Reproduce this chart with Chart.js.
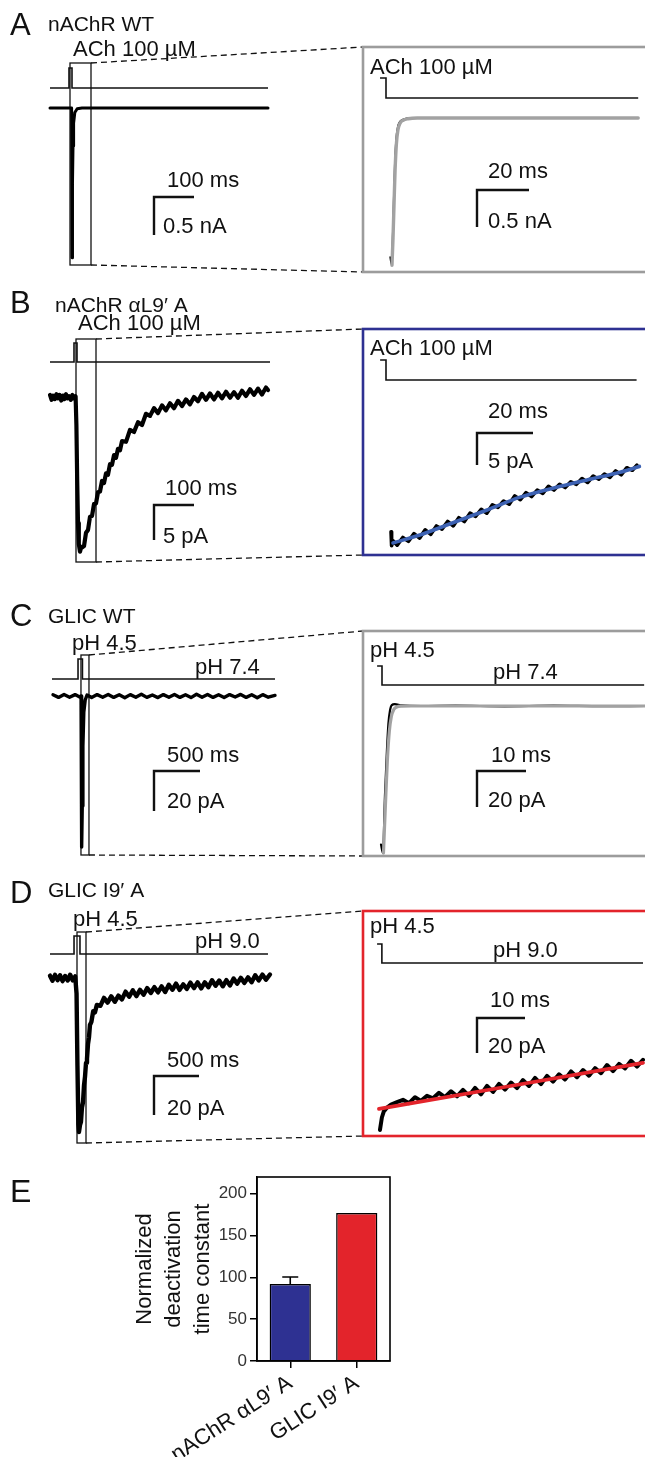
<!DOCTYPE html>
<html>
<head>
<meta charset="utf-8">
<script src="https://cdn.jsdelivr.net/npm/chart.js@4.4.1/dist/chart.umd.min.js"></script>
<style>
  html, body { margin: 0; padding: 0; background: #fff; }
  #wrap { position: relative; width: 645px; height: 1457px; overflow: hidden; }
  #wrap canvas { position: absolute; left: 0; }
</style>
</head>
<body>
<div id="wrap">
  <canvas id="rowA" width="645" height="280" style="top:0px"></canvas>
  <canvas id="rowB" width="645" height="290" style="top:280px"></canvas>
  <canvas id="rowC" width="645" height="300" style="top:570px"></canvas>
  <canvas id="rowD" width="645" height="290" style="top:870px"></canvas>
  <canvas id="rowE" width="645" height="297" style="top:1160px"></canvas>
</div>
<script>
// ---- data (time in ms, current in nA for A, pA otherwise) ----

// A: nAChR WT
const aLeftT = [0, 54, 55, 55.8, 56.6, 57.5, 59, 62, 68, 80, 545];
const aLeftI = [0, 0, -1.97, -1.6, -1.0, -0.5, -0.2, -0.06, -0.01, 0, 0];
const aRightT = [1.6, 2.1, 2.6, 3.0, 3.4, 3.9, 4.5, 5.3, 6.5, 8.5, 12, 97];
const aRightI = [-1.88, -1.98, -1.55, -1.05, -0.6, -0.28, -0.12, -0.05, -0.02, 0, 0, 0];
const aFitT = [2.3, 2.7, 3.1, 3.5, 4.0, 4.6, 5.4, 6.6, 8.5, 12, 97];
const aFitI = [-1.99, -1.62, -1.15, -0.7, -0.35, -0.16, -0.07, -0.03, -0.01, 0, 0];
const aStim = [0, 47.5, 55, 545];      // start, pulse on, pulse off, end
const aWindow = [50, 102.5];
const aStepR = [-2.3, 0, 97];
const aScaleL = [100, 0.5];
const aScaleR = [20, 0.5];

// B: nAChR aL9'A
const bLeftT = [0, 4, 8, 12, 16, 20, 24, 28, 32, 36, 40, 44, 48, 52, 56, 60, 64,
  66, 68, 70, 72, 75, 78,
  80, 85, 90, 95, 100, 105, 110, 115, 120, 125, 130, 135, 140, 145, 150, 155, 160, 165, 170, 175,
  180, 190, 200, 210, 220, 230, 240, 250, 260, 270, 280, 290, 300, 310, 320, 330, 340, 350,
  360, 370, 380, 390, 400, 410, 420, 430, 440, 450, 460, 470, 480, 490, 500, 510, 520, 530, 540, 545];
const bLeftI = [0.3, -0.4, 0.2, -0.3, 0.4, -0.2, 0.3, -0.5, 0.2, -0.3, 0.4, -0.2, 0.1, -0.4, 0.3, -0.2, 0.1,
  -4, -12, -18, -21, -22.1, -21.4,
  -21.5, -21.3, -19.4, -19.0, -17.1, -17.0, -15.3, -15.2, -13.6, -13.5, -12.0, -12.3, -10.9, -11.1, -9.6, -9.7, -8.3, -8.7, -7.4, -7.6,
  -6.3, -6.4, -4.7, -5.0, -3.6, -4.0, -2.4, -2.7, -1.6, -2.3, -1.2, -1.9, -0.9, -1.6, -0.55, -1.3, -0.35, -1.05,
  0, -0.6, 0.45, -0.4, 0.5, -0.35, 0.6, -0.2, 0.75, -0.1, 0.7, -0.1, 0.9, 0.15, 1.1, 0.3, 1.2, 0.35, 1.35, 1.0];
const bRightT = [1.8, 2.0, 2.5, 4, 6, 8, 10, 12, 14, 16, 18, 20, 22, 24, 26, 28, 30, 32, 34, 36, 38, 40,
  42, 44, 46, 48, 50, 52, 54, 56, 58, 60, 62, 64, 66, 68, 70, 72, 74, 76, 78, 80, 82, 84, 86, 88, 89.6];
const bRightI = [-19.8, -22.0, -21.2, -21.9, -20.7, -21.3, -20.1, -20.8, -19.5, -20.2, -18.9, -19.4, -18.2, -18.9,
  -17.6, -18.2, -16.9, -17.4, -16.3, -16.9, -15.6, -16.0, -15.0, -15.5, -14.2, -14.8, -13.7, -14.3, -13.3, -13.8,
  -12.7, -13.3, -12.4, -12.9, -12.0, -12.4, -11.5, -12.1, -11.1, -11.6, -10.8, -11.3, -10.3, -10.9, -9.8, -10.2, -9.4];
const bFitT = [2.5, 12.1, 23.9, 36.1, 47.9, 59.6, 71.8, 83.6, 90.5];
const bFitI = [-21.56, -20.3, -18.4, -16.4, -14.4, -13.0, -11.7, -10.5, -9.6];
const bStim = [0, 60, 67.5, 550];
const bWindow = [65, 115];
const bStepR = [-2.1, 0, 89.5];
const bScaleL = [100, 5];
const bScaleR = [20, 5];

// C: GLIC WT
const cLeftT = [0, 60, 120, 180, 240, 290, 305, 310, 313, 318, 325, 335, 350, 370,
  420, 480, 540, 600, 660, 720, 780, 840, 900, 960, 1020, 1080, 1140, 1200, 1260, 1320, 1380, 1440,
  1500, 1560, 1620, 1680, 1740, 1800, 1860, 1920, 1980, 2040, 2100, 2160, 2220, 2280, 2340, 2413];
const cLeftI = [0.6, -0.7, 0.8, -0.6, 0.7, -0.5, 0, -60, -75.5, -55, -25, -8, -2, 0.5,
  -0.8, 0.7, -0.6, 0.8, -0.7, 0.6, -0.9, 0.7, -0.6, 0.9, -0.7, 0.5, -0.8, 0.7, -0.6, 0.8, -0.7, 0.6,
  -0.8, 0.9, -0.6, 0.8, -0.7, 0.6, -0.8, 0.7, -0.5, 0.8, -0.7, 0.6, -0.9, 0.7, -0.6, 0.3];
const cRightT = [-0.2, 0.2, 0.6, 1.0, 1.3, 1.6, 2.0, 2.6, 4, 8, 15, 25, 35, 45, 54];
const cRightI = [-77, -81.7, -50, -25, -10, -3, 0.5, 1.0, 0.3, 0, 0.2, -0.2, 0.2, -0.1, 0];
const cFitT = [0.3, 0.7, 1.1, 1.5, 1.9, 2.4, 3.0, 4, 6, 54];
const cFitI = [-81.7, -55, -30, -14, -6, -2, -0.6, -0.1, 0, 0];
const cStim = [-11, 272, 320, 2413];
const cWindow = [304, 391];
const cStepR = [-1.0, 0, 53.5];
const cScaleL = [500, 20];
const cScaleR = [10, 20];

// D: GLIC I9'A
const dLeftT = [0, 28, 56, 84, 112, 140, 168, 196, 224, 252, 280,
  295, 305, 315, 322, 333, 344, 355, 367, 378, 389, 400, 411, 422, 433, 444, 460, 480, 500,
  520, 560, 600, 640, 680, 720, 760, 800, 840, 880, 920, 960, 1000, 1040, 1080, 1120, 1160, 1200,
  1240, 1280, 1320, 1360, 1400, 1440, 1480, 1520, 1560, 1600, 1640, 1680, 1720, 1760, 1800, 1840,
  1880, 1920, 1960, 2000, 2040, 2080, 2120, 2160, 2200, 2240, 2280, 2320, 2360, 2400, 2444];
const dLeftI = [1.2, -1.4, 1.6, -1.1, 1.4, -1.6, 1.0, -1.3, 1.7, -1.2, 0.8,
  -8, -45, -75, -79, -75.5, -73.8, -66.5, -63.6, -55, -50.7, -43.5, -41.5, -34, -30.5, -24.1, -22.5, -17, -17.6,
  -13.8, -14.3, -10.2, -12.6, -9.4, -12.2, -9.0, -11.0, -7.0, -9.6, -6.3, -9.3, -6.1, -8.6, -5.2, -7.7, -4.7, -7.35,
  -4.3, -7.2, -3.5, -6.05, -2.9, -6.1, -3.25, -5.6, -2.35, -5.2, -2.2, -5.35, -2.2, -4.7, -1.15, -4.0,
  -1.3, -4.25, -1.1, -3.8, -0.25, -2.9, 0.1, -2.5, 0.3, -2.2, 1.4, -1.25, 1.75, -0.85, 1.8];
const dRightT = [0.2, 0.6, 1.0, 1.6, 2.5, 3.75, 5, 6.25, 7.5, 8.75, 10, 11.25, 12.5, 13.75, 15, 16.25,
  17.5, 18.75, 20, 21.25, 22.5, 23.75, 25, 26.25, 27.5, 28.75, 30, 31.25, 32.5, 33.75, 35, 36.25,
  37.5, 38.75, 40, 41.25, 42.5, 43.75, 45, 46.25, 47.5, 48.75, 50, 51.25, 52.5, 53.75, 55];
const dRightI = [-97.1, -90, -86.5, -84.5, -82.6, -81.2, -79.9, -81.8, -78.4, -80.5, -77.6, -79.0, -75.9,
  -78.3, -75.0, -77.9, -74.2, -77.6, -73.1, -76.8, -71.9, -75.4, -70.8, -74.1, -70.0, -73.2, -68.6,
  -72.0, -67.4, -70.9, -66.2, -69.5, -65.3, -68.3, -63.7, -67.0, -62.9, -66.1, -61.8, -64.7, -60.0,
  -63.5, -59.4, -62.0, -57.6, -60.9, -57.0];
const dFitT = [0, 27.4, 55];
const dFitI = [-85.1, -72.0, -58.8];
const dStim = [0, 267, 333, 2422];
const dWindow = [300, 400];
const dStepR = [-0.4, 0.6, 55];
const dScaleL = [500, 20];
const dScaleR = [10, 20];

// E: bar chart
const eCats = ['nAChR αL9′ A', 'GLIC I9′ A'];
const eVals = [92, 177];
const eErr = [8.5, 0];
const eTitle = ['Normalized', 'deactivation', 'time constant'];

// ---- styling / layout ----
const FONT = '"Liberation Sans", Arial, Helvetica, sans-serif';
const INK = '#111';
const GRAY = '#a2a2a2';
const BLUE_FRAME = '#2e3192';
const BLUE_FIT = '#3d62b3';
const RED = '#e3242b';
const NOTE = 22;   // label size in the trace panels

const LA = {
  letter: ['A', 10, 35], title: ['nAChR WT', 48, 31],
  notes: [['ACh 100 µM', 73, 56], ['ACh 100 µM', 370, 74], ['100 ms', 167, 187], ['0.5 nA', 163, 233],
          ['20 ms', 488, 178], ['0.5 nA', 488, 228]],
  left: {x0: 50, kx: 0.4, y0: 108, ky: 76},
  right: {x0: 386, kx: 2.6, y0: 118, ky: 74},
  stimL: {y: 88, top: 68}, stimR: {y: 78, low: 98},
  box: {top: 63, bottom: 265},
  frame: {left: 363, top: 47, bottom: 272, color: '#9c9c9c'},
  barL: {x: 154, y: 197}, barR: {x: 477, y: 190},
  stim: aStim, win: aWindow, step: aStepR, scaleL: aScaleL, scaleR: aScaleR
};
const LB = {
  letter: ['B', 10, 33], title: ['nAChR αL9′ A', 55, 32],
  notes: [['ACh 100 µM', 78, 50], ['ACh 100 µM', 370, 75], ['100 ms', 165, 215], ['5 pA', 163, 263],
          ['20 ms', 488, 138], ['5 pA', 488, 188]],
  left: {x0: 50, kx: 0.4, y0: 117, ky: 7},
  right: {x0: 386, kx: 2.8, y0: 125, ky: 6.4},
  stimL: {y: 82, top: 63}, stimR: {y: 80, low: 100},
  box: {top: 59, bottom: 282},
  frame: {left: 363, top: 49, bottom: 275, color: BLUE_FRAME},
  barL: {x: 154, y: 225}, barR: {x: 477, y: 153},
  stim: bStim, win: bWindow, step: bStepR, scaleL: bScaleL, scaleR: bScaleR
};
const LC = {
  letter: ['C', 10, 56], title: ['GLIC WT', 48, 53],
  notes: [['pH 4.5', 72, 80], ['pH 7.4', 195, 104], ['pH 4.5', 370, 87], ['pH 7.4', 493, 109],
          ['500 ms', 167, 192], ['20 pA', 167, 238], ['10 ms', 491, 192], ['20 pA', 488, 237]],
  left: {x0: 53, kx: 0.092, y0: 126, ky: 2},
  right: {x0: 382, kx: 4.9, y0: 136, ky: 1.8},
  stimL: {y: 109, top: 89}, stimR: {y: 96, low: 115},
  box: {top: 85, bottom: 285},
  frame: {left: 363, top: 61, bottom: 286, color: '#9c9c9c'},
  barL: {x: 154, y: 201}, barR: {x: 477, y: 201},
  stim: cStim, win: cWindow, step: cStepR, scaleL: cScaleL, scaleR: cScaleR
};
const LD = {
  letter: ['D', 10, 33], title: ['GLIC I9′ A', 48, 27],
  notes: [['pH 4.5', 73, 56], ['pH 9.0', 195, 78], ['pH 4.5', 370, 63], ['pH 9.0', 493, 87],
          ['500 ms', 167, 197], ['20 pA', 167, 245], ['10 ms', 490, 137], ['20 pA', 488, 183]],
  left: {x0: 50, kx: 0.09, y0: 108, ky: 1.95},
  right: {x0: 379, kx: 4.8, y0: 90, ky: 1.75},
  stimL: {y: 84, top: 66}, stimR: {y: 74, low: 93},
  box: {top: 62, bottom: 273},
  frame: {left: 363, top: 41, bottom: 266, color: RED},
  barL: {x: 154, y: 206}, barR: {x: 477, y: 148},
  stim: dStim, win: dWindow, step: dStepR, scaleL: dScaleL, scaleR: dScaleR
};

// axis limits so that value 0 sits at pixel p0 with k pixels per unit
function fitX(p0, k, w) { return {min: -p0 / k, max: (w - p0) / k}; }
function fitY(p0, k, h) { return {min: -(h - p0) / k, max: p0 / k}; }

function pts(T, V) {
  const n = Math.min(T.length, V.length);
  const out = [];
  for (let i = 0; i < n; i++) out.push({x: T[i], y: V[i]});
  return out;
}

// z: drawing order, higher values are painted on top
function trace(T, V, side, color, width, z, extra) {
  return Object.assign({
    data: pts(T, V), xAxisID: 'x' + side, yAxisID: 'y' + side,
    borderColor: color, borderWidth: width, pointRadius: 0, tension: 0,
    borderJoinStyle: 'round', borderCapStyle: 'round', fill: false,
    order: -z
  }, extra || {});
}

function put(ctx, t, size) {
  ctx.font = size + 'px ' + FONT;
  ctx.fillText(t[0], t[1], t[2]);
}

function makeDecor(L) {
  return {
    id: 'decor',
    beforeDatasetsDraw(chart) {
      const ctx = chart.ctx, s = chart.scales;
      const lx = t => s.xL.getPixelForValue(t);
      const rx = t => s.xR.getPixelForValue(t);
      ctx.save();
      ctx.fillStyle = INK;
      ctx.strokeStyle = INK;
      ctx.textBaseline = 'alphabetic';
      ctx.textAlign = 'left';

      put(ctx, L.letter, 31);
      put(ctx, L.title, 21);
      L.notes.forEach(n => put(ctx, n, NOTE));

      // solution exchange above the left trace
      const st = L.stim;
      ctx.lineWidth = 1.6;
      ctx.beginPath();
      ctx.moveTo(lx(st[0]), L.stimL.y);
      ctx.lineTo(lx(st[1]), L.stimL.y);
      ctx.lineTo(lx(st[1]), L.stimL.top);
      ctx.lineTo(lx(st[2]), L.stimL.top);
      ctx.lineTo(lx(st[2]), L.stimL.y);
      ctx.lineTo(lx(st[3]), L.stimL.y);
      ctx.stroke();

      // zoom window box
      const bx0 = lx(L.win[0]), bx1 = lx(L.win[1]);
      ctx.lineWidth = 1.3;
      ctx.strokeRect(bx0, L.box.top, bx1 - bx0, L.box.bottom - L.box.top);

      // dashed connectors
      ctx.setLineDash([6, 4]);
      ctx.beginPath();
      ctx.moveTo(bx1, L.box.top);
      ctx.lineTo(L.frame.left, L.frame.top);
      ctx.moveTo(bx1, L.box.bottom);
      ctx.lineTo(L.frame.left, L.frame.bottom);
      ctx.stroke();
      ctx.setLineDash([]);

      // right panel frame
      ctx.strokeStyle = L.frame.color;
      ctx.lineWidth = 2.6;
      ctx.strokeRect(L.frame.left, L.frame.top, 400, L.frame.bottom - L.frame.top);

      // step in the zoomed panel
      ctx.strokeStyle = INK;
      ctx.lineWidth = 1.6;
      ctx.beginPath();
      ctx.moveTo(rx(L.step[0]), L.stimR.y);
      ctx.lineTo(rx(L.step[1]), L.stimR.y);
      ctx.lineTo(rx(L.step[1]), L.stimR.low);
      ctx.lineTo(rx(L.step[2]), L.stimR.low);
      ctx.stroke();

      // scale bars
      ctx.lineWidth = 2.4;
      ctx.lineCap = 'butt';
      [['L', L.barL, L.scaleL], ['R', L.barR, L.scaleR]].forEach(([side, b, v]) => {
        const xs = s['x' + side], ys = s['y' + side];
        const w = xs.getPixelForValue(v[0]) - xs.getPixelForValue(0);
        const h = ys.getPixelForValue(0) - ys.getPixelForValue(v[1]);
        ctx.beginPath();
        ctx.moveTo(b.x + w, b.y);
        ctx.lineTo(b.x, b.y);
        ctx.lineTo(b.x, b.y + h);
        ctx.stroke();
      });
      ctx.restore();
    }
  };
}

function makeRow(id, L, datasets) {
  const cv = document.getElementById(id);
  const W = cv.width, H = cv.height;
  const xl = fitX(L.left.x0, L.left.kx, W), yl = fitY(L.left.y0, L.left.ky, H);
  const xr = fitX(L.right.x0, L.right.kx, W), yr = fitY(L.right.y0, L.right.ky, H);
  const hidden = {type: 'linear', display: false};
  return new Chart(cv, {
    type: 'line',
    data: {datasets: datasets},
    options: {
      responsive: false, animation: false, events: [], devicePixelRatio: 1,
      layout: {padding: 0},
      plugins: {legend: {display: false}, tooltip: {enabled: false}},
      scales: {
        xL: Object.assign({axis: 'x', min: xl.min, max: xl.max}, hidden),
        yL: Object.assign({axis: 'y', min: yl.min, max: yl.max}, hidden),
        xR: Object.assign({axis: 'x', min: xr.min, max: xr.max}, hidden),
        yR: Object.assign({axis: 'y', min: yr.min, max: yr.max}, hidden)
      }
    },
    plugins: [makeDecor(L)]
  });
}

makeRow('rowA', LA, [
  trace(aLeftT, aLeftI, 'L', '#000', 3, 0),
  trace(aRightT, aRightI, 'R', '#000', 1.6, 1, {cubicInterpolationMode: 'monotone'}),
  trace(aFitT, aFitI, 'R', GRAY, 3.4, 2, {cubicInterpolationMode: 'monotone'})
]);

makeRow('rowB', LB, [
  trace(bLeftT, bLeftI, 'L', '#000', 4.2, 0),
  trace(bRightT, bRightI, 'R', '#000', 3.6, 1),
  trace(bFitT, bFitI, 'R', BLUE_FIT, 3.6, 2, {cubicInterpolationMode: 'monotone'})
]);

makeRow('rowC', LC, [
  trace(cLeftT, cLeftI, 'L', '#000', 3.4, 0),
  trace(cRightT, cRightI, 'R', '#000', 2.2, 1, {cubicInterpolationMode: 'monotone'}),
  trace(cFitT, cFitI, 'R', GRAY, 3.2, 2, {cubicInterpolationMode: 'monotone'})
]);

makeRow('rowD', LD, [
  trace(dLeftT, dLeftI, 'L', '#000', 4.4, 0),
  trace(dRightT, dRightI, 'R', '#000', 4, 1),
  trace(dFitT, dFitI, 'R', RED, 3.8, 2)
]);

// ---- panel E ----
const eDecor = {
  id: 'eDecor',
  afterDatasetsDraw(chart) {
    const ctx = chart.ctx, a = chart.chartArea, y = chart.scales.y;
    const meta = chart.getDatasetMeta(0);
    ctx.save();
    ctx.strokeStyle = '#000';
    ctx.lineWidth = 1.6;
    meta.data.forEach((bar, i) => {
      if (!eErr[i]) return;
      const top = y.getPixelForValue(eVals[i] + eErr[i]);
      ctx.beginPath();
      ctx.moveTo(bar.x, bar.y);
      ctx.lineTo(bar.x, top);
      ctx.moveTo(bar.x - 8, top);
      ctx.lineTo(bar.x + 8, top);
      ctx.stroke();
    });
    ctx.strokeRect(a.left, a.top, a.right - a.left, a.bottom - a.top);
    ctx.fillStyle = INK;
    ctx.textBaseline = 'alphabetic';
    ctx.font = '32px ' + FONT;
    ctx.fillText('E', 10, 42);
    ctx.restore();
  }
};

new Chart(document.getElementById('rowE'), {
  type: 'bar',
  data: {
    labels: eCats,
    datasets: [{
      data: eVals,
      backgroundColor: [BLUE_FRAME, RED],
      borderColor: '#000',
      borderWidth: 1.5,
      barPercentage: 0.62,
      categoryPercentage: 1
    }]
  },
  options: {
    responsive: false, animation: false, events: [], devicePixelRatio: 1,
    layout: {padding: {left: 131, right: 255, top: 17, bottom: 0}},
    plugins: {legend: {display: false}, tooltip: {enabled: false}},
    scales: {
      x: {
        grid: {display: true, drawOnChartArea: false, offset: false, tickLength: 7, color: '#000', lineWidth: 1.5},
        border: {display: true, color: '#000', width: 1.5},
        ticks: {minRotation: 33, maxRotation: 33, padding: 2, color: INK, font: {family: FONT, size: 22}},
        afterFit(scale) { scale.height = 96; }
      },
      y: {
        min: 0, max: 220,
        grid: {display: true, drawOnChartArea: false, tickLength: 7, color: '#000', lineWidth: 1.5},
        border: {display: true, color: '#000', width: 1.5},
        ticks: {stepSize: 50, includeBounds: false, padding: 3, color: '#333', font: {family: FONT, size: 17}},
        title: {display: true, text: eTitle, color: INK, padding: 0, font: {family: FONT, size: 22, lineHeight: 1.3}},
        afterFit(scale) { scale.width = 126; }
      }
    }
  },
  plugins: [eDecor]
});
</script>
</body>
</html>
